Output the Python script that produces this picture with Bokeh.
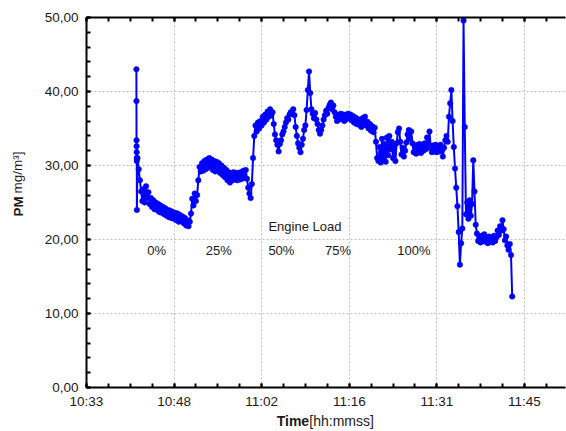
from bokeh.plotting import figure
from bokeh.models import (ColumnDataSource, FixedTicker, LinearAxis, Range1d,
                          CustomJSTickFormatter)
from bokeh.embed import file_html
from bokeh.resources import INLINE
from bokeh.core.properties import value

# ---- axis ticks (time in minutes after midnight) ----
x_ticks = [633.6, 648.0, 662.4, 676.8, 691.2, 705.6]
x_tick_labels = ["10:33", "10:48", "11:02", "11:16", "11:31", "11:45"]
y_ticks = [0, 10, 20, 30, 40, 50]
y_tick_labels = ["0,00", "10,00", "20,00", "30,00", "40,00", "50,00"]

# ---- measured PM concentration [mg/m3] ----
startup_t0 = 641.80      # start of the fast-sampled start-up spike (min)
startup_dt = 0.012
pm_startup = [43.0, 38.7, 33.4, 32.6, 31.8, 31.0, 30.6, 24.0]

main_t0 = 641.98         # start of the regular record (min)
main_dt = 0.2            # sample interval (min)

pm_load_0 = [31.0, 29.5, 28.0, 26.5, 25.2, 26.8, 25.0, 27.2, 25.6, 26.4,
             24.8, 25.6, 24.4, 25.3, 24.1, 25.0, 24.0, 24.8, 23.7, 24.6,
             23.6, 24.4, 23.4, 24.2, 23.2, 24.0, 23.0, 23.9, 22.9, 23.7,
             22.8, 23.6, 22.6, 23.5, 22.4, 23.3, 22.5, 23.1, 22.2, 22.9,
             21.9, 22.6, 21.8, 22.4, 23.5, 25.5, 24.6, 26.2, 25.2, 26.0,
             28.0, 29.8]

pm_load_25 = [29.2, 30.3, 29.3, 30.6, 29.5, 30.8, 29.7, 31.0, 30.0, 30.8,
              29.4, 30.6, 29.2, 30.5, 29.3, 30.3, 29.0, 30.0, 28.7, 29.7,
              28.4, 29.4, 28.0, 29.1, 27.7, 28.9, 28.0, 29.1, 28.1, 29.0,
              28.0, 29.0, 28.1, 29.1, 28.2, 29.3, 28.4, 29.4, 28.2, 27.0,
              26.2, 25.6, 27.5, 31.0, 34.0]

pm_load_50 = [35.4, 34.6, 35.8, 35.0, 36.0, 35.4, 36.6, 35.8, 36.9, 36.2,
              37.3, 36.6, 37.6, 36.8, 37.2, 35.6, 34.2, 33.4, 32.8, 31.9,
              32.9, 33.4, 34.2, 34.6, 35.2, 35.8, 36.4, 36.2, 36.9, 37.2,
              37.0, 37.6, 36.8, 35.2, 34.0, 33.0, 32.4, 31.8, 32.8, 33.6,
              34.8, 35.4, 37.5, 40.2, 42.7, 39.8, 37.6, 37.0, 36.4, 37.1,
              36.2, 35.6, 34.8, 34.3, 34.8, 35.4, 36.2, 36.8, 37.4, 37.0,
              37.8, 38.2, 38.5, 37.6, 38.1, 37.2, 36.6, 36.0, 36.8, 36.2,
              37.0, 36.4, 36.9, 36.0, 36.8, 36.3, 37.0, 36.4, 36.9]

pm_load_75 = [36.1, 36.7, 35.8, 36.5, 35.6, 36.3, 35.5, 36.0, 35.2, 36.4,
              35.6, 36.6, 35.4, 35.9, 35.0, 35.6, 34.7, 35.3, 34.5, 35.1,
              33.2, 31.0, 30.6, 32.5]

pm_load_100 = [30.4, 33.6, 30.8, 32.9, 30.5, 33.8, 31.4, 34.0, 32.2, 33.2,
               31.0, 32.6, 30.6, 33.0, 34.5, 35.0, 33.2, 31.5, 32.4, 31.2,
               32.0, 33.1, 34.2, 34.8, 33.6, 34.6, 33.0, 31.8, 32.6, 31.6,
               32.8, 31.8, 32.9, 31.7, 32.6, 32.0, 33.0, 32.2, 33.8, 32.4,
               34.6, 32.6, 31.8, 32.7, 31.9, 32.8, 31.8, 32.6, 31.9, 32.8,
               32.0, 31.2, 32.4, 33.4, 34.0, 33.2, 36.6, 38.4]

pm_shutdown = [40.2, 36.0, 32.5, 29.6, 27.0, 24.5, 21.0, 16.6, 19.5, 21.5,
               49.6, 35.2, 23.4, 25.0, 22.8, 25.3, 23.2, 24.8, 30.7, 26.5,
               22.0, 20.8, 19.8, 20.4, 19.6, 20.5, 19.8, 20.7, 19.7, 20.3,
               19.5, 20.4, 19.7, 20.2, 19.6, 20.5, 19.8, 20.3, 21.2, 20.6,
               21.8, 21.2, 22.6, 21.4, 19.9, 20.4, 19.2, 18.6, 19.4, 17.9,
               12.3]

# ---- annotation texts ----
load_labels = ["Engine Load", "0%", "25%", "50%", "75%", "100%"]
load_label_x = [663.5, 643.6, 653.2, 663.5, 672.8, 684.7]
load_label_y = [21.7, 18.5, 18.5, 18.5, 18.5, 18.5]

# ---- build table ----
t_all, pm_all = [], []
for k, v in enumerate(pm_startup):
    t_all.append(startup_t0 + k * startup_dt)
    pm_all.append(v)
main = pm_load_0 + pm_load_25 + pm_load_50 + pm_load_75 + pm_load_100 + pm_shutdown
for k, v in enumerate(main):
    t_all.append(main_t0 + k * main_dt)
    pm_all.append(v)
src = ColumnDataSource(dict(t=t_all, pm=pm_all))

FONT = "Liberation Sans"
TXT = "#1a1a1a"
NB = "\u00a0"

p = figure(width=566, height=431, output_backend="svg", toolbar_location=None,
           x_range=Range1d(633.6, 712.34), y_range=Range1d(0, 50),
           min_border_left=86, min_border_right=1, min_border_top=17,
           min_border_bottom=43)
p.outline_line_color = None
p.background_fill_color = "white"
p.border_fill_color = "white"

x_minor = [x_ticks[0] + k * 3.6 for k in range(23)]
y_minor = [k * 2 for k in range(26)]

def fmt(pos, labels):
    return CustomJSTickFormatter(args=dict(tick_pos=pos, tick_text=labels), code="""
        let best = 0;
        for (let i = 0; i < tick_pos.length; i++) {
            if (Math.abs(tick_pos[i] - tick) < Math.abs(tick_pos[best] - tick)) best = i;
        }
        return tick_text[best];
    """)

xa = p.xaxis[0]
ya = p.yaxis[0]
xa.ticker = FixedTicker(ticks=x_ticks, minor_ticks=x_minor)
ya.ticker = FixedTicker(ticks=y_ticks, minor_ticks=y_minor)
xa.formatter = fmt(x_ticks, x_tick_labels)
ya.formatter = fmt(y_ticks, y_tick_labels)

top = LinearAxis(ticker=FixedTicker(ticks=x_ticks, minor_ticks=x_minor),
                 formatter=CustomJSTickFormatter(code="return ''"),
                 major_label_standoff=0, major_label_text_font_size="1px")
p.add_layout(top, "above")

for ax in (xa, ya, top):
    ax.axis_line_width = 2
    ax.axis_line_color = "black"
    ax.major_tick_in = 4
    ax.major_tick_out = 0
    ax.minor_tick_in = 4
    ax.minor_tick_out = 0
    ax.major_tick_line_width = 2
    ax.minor_tick_line_width = 2
    ax.major_tick_line_color = "black"
    ax.minor_tick_line_color = "black"
for ax in (xa, ya):
    ax.major_label_text_font = FONT
    ax.major_label_text_font_size = "13.5px"
    ax.major_label_text_color = TXT
xa.major_label_standoff = 6
ya.major_label_standoff = 8

# axis titles: bold part on the main axes, normal part on helper axes
xa.axis_label = "Time" + NB * 17
xa.axis_label_standoff = 1
ya.axis_label = "PM" + NB * 2
ya.axis_label_standoff = 16
for ax in (xa, ya):
    ax.axis_label_text_font = FONT
    ax.axis_label_text_font_style = "bold"
    ax.axis_label_text_color = TXT
xa.axis_label_text_font_size = "14px"
ya.axis_label_text_font_size = "13.5px"

xb = LinearAxis(ticker=FixedTicker(ticks=[]), axis_line_color=None,
                major_tick_line_color=None, minor_tick_line_color=None,
                major_label_text_font_size="0px", major_label_standoff=0,
                axis_label=NB * 8 + "[hh:mmss]", axis_label_standoff=-19,
                axis_label_text_font=FONT, axis_label_text_font_style="normal",
                axis_label_text_font_size="14px", axis_label_text_color=TXT)
p.add_layout(xb, "below")
yb = LinearAxis(ticker=FixedTicker(ticks=[]), axis_line_color=None,
                major_tick_line_color=None, minor_tick_line_color=None,
                major_label_text_font_size="0px", major_label_standoff=0,
                axis_label=NB * 16 + "mg/m³]", axis_label_standoff=-17,
                axis_label_text_font=FONT, axis_label_text_font_style="normal",
                axis_label_text_font_size="13.5px", axis_label_text_color=TXT)
p.add_layout(yb, "left")

p.xgrid.ticker = FixedTicker(ticks=x_ticks)
p.ygrid.ticker = FixedTicker(ticks=y_ticks)
for g in (p.xgrid, p.ygrid):
    g.grid_line_color = "#c0c0c0"
    g.grid_line_dash = "2 2"
    g.grid_line_width = 1

p.line("t", "pm", source=src, line_color="#0000ff", line_width=2)
p.scatter("t", "pm", source=src, marker="circle", size=5.5,
          fill_color="#0000ff", line_color="#0000ff", line_width=0.5)

p.text(x=load_label_x, y=load_label_y, text=load_labels,
       text_font=value(FONT), text_font_size="13px", text_color=TXT,
       text_align="left", text_baseline="middle")

open("out.html", "w").write(file_html(p, INLINE))
